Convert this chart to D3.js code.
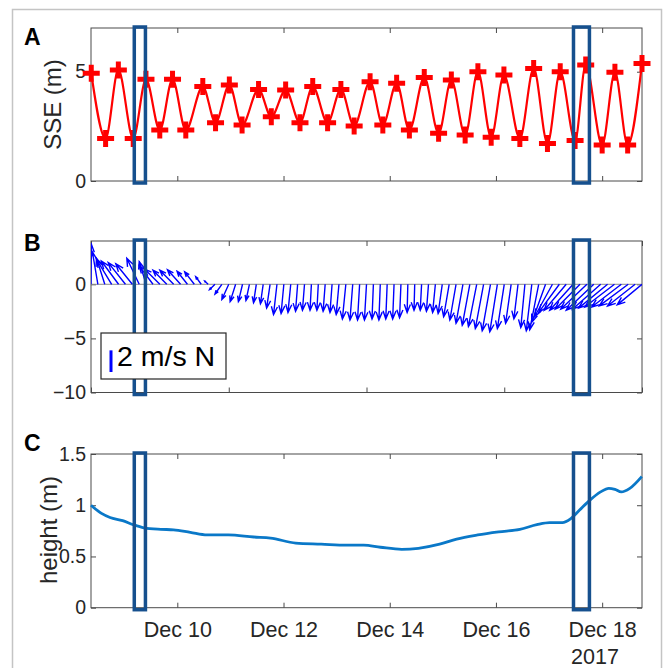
<!DOCTYPE html>
<html><head><meta charset="utf-8">
<script src="https://cdn.jsdelivr.net/npm/d3@7"></script>
<style>body{margin:0;background:#fff}svg{display:block}</style>
</head><body>
<svg id="chart" width="663" height="668"></svg>
<script>
// ---------------- DATA ----------------
// Panel A: sea surface elevation extrema (day of Dec 2017, metres)
const sseDays = [8.38, 8.65, 8.89, 9.17, 9.41, 9.67, 9.91, 10.16, 10.48, 10.72, 10.98, 11.22, 11.53, 11.77, 12.04, 12.31, 12.55, 12.83, 13.08, 13.33, 13.63, 13.87, 14.13, 14.37, 14.65, 14.92, 15.16, 15.42, 15.66, 15.91, 16.15, 16.45, 16.71, 16.97, 17.21, 17.49, 17.69, 18.00, 18.24, 18.48, 18.75];
const sseValues = [4.93, 1.95, 5.08, 1.95, 4.65, 2.33, 4.65, 2.33, 4.32, 2.67, 4.39, 2.56, 4.19, 2.94, 4.16, 2.67, 4.32, 2.67, 4.19, 2.52, 4.54, 2.56, 4.47, 2.33, 4.74, 2.18, 4.62, 2.10, 5.00, 2.00, 4.85, 1.95, 5.15, 1.72, 5.00, 1.85, 5.31, 1.65, 4.97, 1.65, 5.38];

// Panel B: wind feather (east u, north v, m/s), one per index 0..80
const windU = [0.05, -0.8, -1.2, -2.2, -2.5, -2.5, -2.4, -1.8, -1.0, -2.0, -2.2, -2.0, -2.0, -1.9, -1.5, -1.4, -0.8, -0.5,
  -0.8, -1.0, -1.0, -0.8, -0.6, -0.5, -0.4, -0.4, -0.5, -0.5,
  -0.4, -0.4, -0.3, -0.3, -0.2, -0.2, -0.3, -0.3, -0.4, -0.5,
  -0.4, -0.3, -0.3, -0.2, -0.2, -0.2, -0.2, -0.2, -0.1, -0.1,
  -0.2, -0.3, -0.4, -0.6, -0.8, -0.9, -1.0, -1.1, -1.2, -1.2,
  -1.2, -1.1, -1.0, -0.8, -0.6, -0.6, -0.8, -1.3, -2.0, -2.6,
  -3.0, -3.2, -3.4, -3.6, -3.8, -4.0, -4.1, -4.2, -4.3, -4.3,
  -4.2, -4.0, -3.6];
const windV = [3.7, 3.0, 2.4, 2.3, 2.15, 2.0, 1.9, 2.4, 2.1, 1.7, 1.4, 1.3, 1.3, 1.35, 1.2, 1.15, 0.7, 0.3,
  -0.5, -0.9, -1.4, -1.6, -1.6, -1.5, -1.7, -1.8, -2.2, -2.8,
  -2.7, -2.6, -2.5, -2.4, -2.4, -2.4, -2.5, -2.6, -2.8, -3.2,
  -3.3, -3.3, -3.3, -3.2, -3.3, -3.2, -3.2, -3.1, -2.6, -2.4,
  -2.4, -2.5, -2.6, -2.7, -3.0, -3.3, -3.6, -3.8, -3.9, -4.1,
  -4.3, -4.4, -4.1, -3.6, -3.2, -4.0, -4.3, -4.2, -3.5, -3.0,
  -2.6, -2.4, -2.4, -2.3, -2.3, -2.4, -2.3, -2.2, -2.1, -2.1,
  -2.0, -2.0, -1.9];

// Panel C: wave height (day of Dec 2017, metres)
const heightDays = [8.375, 8.573, 8.733, 8.97, 9.17, 9.37, 9.69, 9.93, 10.245, 10.56, 10.96, 11.44, 11.755, 12.23, 12.71, 13.19, 13.51, 13.825, 14.225, 14.54, 14.94, 15.26, 15.656, 16.05, 16.45, 16.77, 17.01, 17.25, 17.41, 17.57, 17.77, 17.97, 18.125, 18.24, 18.36, 18.52, 18.745];
const heightValues = [1.00, 0.92, 0.88, 0.85, 0.81, 0.78, 0.765, 0.76, 0.735, 0.71, 0.71, 0.69, 0.68, 0.63, 0.62, 0.61, 0.61, 0.59, 0.57, 0.58, 0.62, 0.67, 0.71, 0.74, 0.765, 0.81, 0.83, 0.83, 0.87, 0.95, 1.05, 1.13, 1.165, 1.155, 1.13, 1.165, 1.28];

// Highlight windows (day of Dec 2017)
const boxStartDays = [9.19, 17.46];
const boxEndDays = [9.40, 17.76];

// Axis ranges and ticks
const dayRange = [8.375, 18.75];
const dateTickDays = [10, 12, 14, 16, 18];
const sseDomain = [0, 7], sseTicks = [0, 5];
const windDomain = [-10, 4], windTicks = [-10, -5, 0];
const windIndexDomain = [0, 80], windIndexTicks = [0, 20, 40, 60, 80];
const heightDomain = [0, 1.5], heightTicks = [0, 0.5, 1, 1.5];
const legendSpeed = 2;
const yearLabel = "2017";

// ---------------- DRAW ----------------
const toDate = d => new Date(Date.UTC(2017, 11, 1) + (d - 1) * 864e5);
const svg = d3.select("#chart");
const L = 91, R = 642;
const FONT = "'Liberation Sans', Arial, Helvetica, sans-serif";
const AX = "#262626";
const BOXC = "#16508e";

svg.append("rect").attr("x", 0).attr("y", 0).attr("width", 663).attr("height", 668).attr("fill", "#fff");
svg.append("rect").attr("x", 12.5).attr("y", 9.5).attr("width", 649).attr("height", 700)
  .attr("fill", "none").attr("stroke", "#c4c4c4").attr("stroke-width", 1.5);

const x = d3.scaleUtc().domain(dayRange.map(toDate)).range([L, R]);
const dateTicks = dateTickDays.map(toDate);

function frame(g, xs, ys, xticks, yticks, yfmt, showX) {
  const [b, t] = ys.range();
  g.append("rect").attr("x", L).attr("y", t).attr("width", R - L).attr("height", b - t)
    .attr("fill", "none").attr("stroke", "#4a4a4a").attr("stroke-width", 1);
  const style = sel => {
    sel.select(".domain").remove();
    sel.selectAll(".tick line").attr("stroke", "#4a4a4a");
    sel.selectAll("text").attr("fill", AX).style("font-family", FONT);
  };
  g.append("g").attr("transform", `translate(0,${b})`)
    .call(d3.axisBottom(xs).tickValues(xticks).tickSize(-5).tickPadding(14)
      .tickFormat(showX ? d3.utcFormat("%b %d") : () => ""))
    .call(style).selectAll("text").style("font-size", "21.5px");
  g.append("g").attr("transform", `translate(0,${t})`)
    .call(d3.axisTop(xs).tickValues(xticks).tickSize(-5).tickFormat(() => "")).call(style);
  g.append("g").attr("transform", `translate(${L},0)`)
    .call(d3.axisLeft(ys).tickValues(yticks).tickSize(-5).tickPadding(5).tickFormat(yfmt))
    .call(style).selectAll("text").style("font-size", "19.5px");
  g.append("g").attr("transform", `translate(${R},0)`)
    .call(d3.axisRight(ys).tickValues(yticks).tickSize(-5).tickFormat(() => "")).call(style);
}

function boxes(g, ys) {
  const [b, t] = ys.range();
  boxStartDays.forEach((s, i) => {
    const x0 = x(toDate(s)), x1 = x(toDate(boxEndDays[i]));
    g.append("rect").attr("x", x0).attr("y", t - 1).attr("width", x1 - x0).attr("height", b - t + 3)
      .attr("fill", "none").attr("stroke", BOXC).attr("stroke-width", 3.5);
  });
}

function panelLabel(txt, yb) {
  svg.append("text").attr("x", 24).attr("y", yb).text(txt)
    .style("font-family", FONT).style("font-weight", "bold").style("font-size", "23px").attr("fill", "#000");
}

function yLabel(txt, cy, bx) {
  svg.append("text").attr("transform", `translate(${bx},${cy}) rotate(-90)`).attr("text-anchor", "middle")
    .text(txt).style("font-family", FONT).style("font-size", "24px").attr("fill", AX);
}

// ---- Panel A ----
const yA = d3.scaleLinear().domain(sseDomain).range([181, 28]);
const gA = svg.append("g");
frame(gA, x, yA, dateTicks, sseTicks, d3.format("d"), false);
const sseData = sseDays.map((d, i) => ({ t: toDate(d), v: sseValues[i] }));
gA.append("path").datum(sseData)
  .attr("d", d3.line().x(d => x(d.t)).y(d => yA(d.v)).curve(d3.curveMonotoneX))
  .attr("fill", "none").attr("stroke", "#ff0000").attr("stroke-width", 2.2);
gA.selectAll(".plus").data(sseData).join("path").attr("class", "plus")
  .attr("d", d => { const cx = x(d.t), cy = yA(d.v), s = 8.5;
    return `M${cx - s},${cy}H${cx + s}M${cx},${cy - s}V${cy + s}`; })
  .attr("stroke", "#ff0000").attr("stroke-width", 5).attr("fill", "none");
boxes(gA, yA);
panelLabel("A", 45);
yLabel("SSE (m)", 104.5, 61);

// ---- Panel B ----
const yB = d3.scaleLinear().domain(windDomain).range([392.5, 241]);
const xi = d3.scaleLinear().domain(windIndexDomain).range([L, R]);
const gB = svg.append("g");
svg.append("clipPath").attr("id", "clipB").append("rect")
  .attr("x", L).attr("y", 241).attr("width", R - L).attr("height", 392.5 - 241);
frame(gB, xi, yB, windIndexTicks, windTicks, d3.format("d"), false);
const arrows = gB.append("g").attr("clip-path", "url(#clipB)");
arrows.append("line").attr("x1", xi(windIndexDomain[0])).attr("x2", xi(windIndexDomain[1]))
  .attr("y1", yB(0)).attr("y2", yB(0)).attr("stroke", "#8a8a8a").attr("stroke-width", 1);
windU.forEach((u, i) => {
  const v = windV[i];
  const x0 = xi(i), y0 = yB(0), x1 = xi(i + u), y1 = yB(v);
  const dx = x1 - x0, dy = y1 - y0, len = Math.hypot(dx, dy);
  if (len < 0.5) return;
  const ux = dx / len, uy = dy / len;
  const h = Math.min(8, 0.32 * len), w = h * 0.38;
  const p1 = [x1 - h * ux - w * uy, y1 - h * uy + w * ux];
  const p2 = [x1 - h * ux + w * uy, y1 - h * uy - w * ux];
  arrows.append("path")
    .attr("d", `M${x0},${y0}L${x1},${y1}M${p1[0]},${p1[1]}L${x1},${y1}L${p2[0]},${p2[1]}`)
    .attr("fill", "none").attr("stroke", "#0000ff").attr("stroke-width", 1.4);
});
boxes(gB, yB);
// legend
const lg = gB.append("g");
lg.append("rect").attr("x", 101).attr("y", 333).attr("width", 125).attr("height", 46)
  .attr("fill", "#fff").attr("stroke", AX).attr("stroke-width", 1.2);
const barLen = yB(0) - yB(legendSpeed);
lg.append("line").attr("x1", 111).attr("x2", 111).attr("y1", 372 - barLen).attr("y2", 372)
  .attr("stroke", "#0000ff").attr("stroke-width", 3);
lg.append("text").attr("x", 117).attr("y", 366).text(`${legendSpeed} m/s N`)
  .style("font-family", FONT).style("font-size", "28.5px").attr("fill", "#000");
panelLabel("B", 251);

// ---- Panel C ----
const yC = d3.scaleLinear().domain(heightDomain).range([607.7, 454]);
const gC = svg.append("g");
frame(gC, x, yC, dateTicks, heightTicks, d => d3.format("")(d), true);
const hData = heightDays.map((d, i) => ({ t: toDate(d), v: heightValues[i] }));
gC.append("path").datum(hData)
  .attr("d", d3.line().x(d => x(d.t)).y(d => yC(d.v)).curve(d3.curveMonotoneX))
  .attr("fill", "none").attr("stroke", "#0a78c8").attr("stroke-width", 2.8);
boxes(gC, yC);
svg.append("text").attr("x", 595).attr("y", 664).attr("text-anchor", "middle").text(yearLabel)
  .style("font-family", FONT).style("font-size", "21.5px").attr("fill", AX);
panelLabel("C", 451);
yLabel("height (m)", 530, 57);
</script>
</body></html>
